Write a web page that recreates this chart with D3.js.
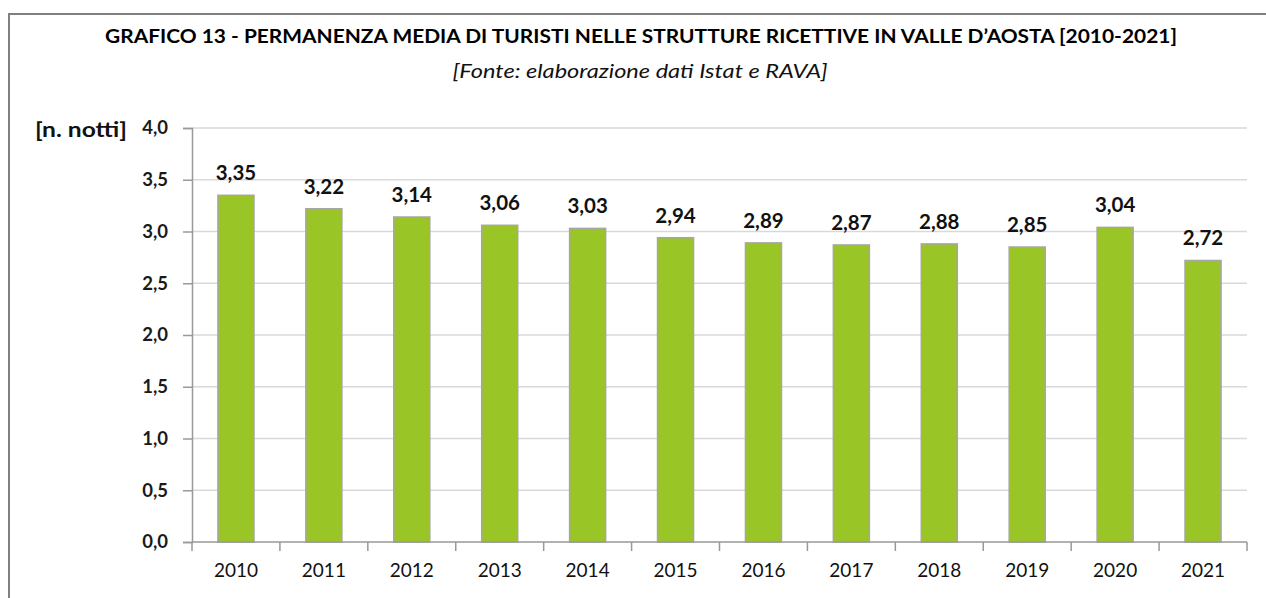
<!DOCTYPE html>
<html><head><meta charset="utf-8">
<script src="https://cdn.jsdelivr.net/npm/d3@7"></script>
<style>body{margin:0;background:#fff}svg{display:block}</style>
</head><body>
<svg id="c" width="1266" height="598"></svg>
<script>
const years = ["2010","2011","2012","2013","2014","2015","2016","2017","2018","2019","2020","2021"];
const values = [3.35,3.22,3.14,3.06,3.03,2.94,2.89,2.87,2.88,2.85,3.04,2.72];
const yTicks = [0,0.5,1,1.5,2,2.5,3,3.5,4];
const title = "GRAFICO 13 - PERMANENZA MEDIA DI TURISTI NELLE STRUTTURE RICETTIVE IN VALLE D\u2019AOSTA [2010-2021]";
const subtitle = "[Fonte: elaborazione dati Istat e RAVA]";
const yLabel = "[n. notti]";

const svg = d3.select("#c");
const font = "Lato, 'Open Sans', sans-serif";
const fmt = v => d3.format(".2f")(v).replace(".", ",");
const fmt1 = v => d3.format(".1f")(v).replace(".", ",");

// frame
svg.append("path").attr("d","M9,598 V14 H1266").attr("fill","none").attr("stroke","#808080").attr("stroke-width",2);

svg.append("text").attr("x",641).attr("y",43).attr("text-anchor","middle")
  .attr("font-family",font).attr("font-weight","bold").attr("font-size",19.5)
  .attr("textLength",1072).attr("lengthAdjust","spacingAndGlyphs")
  .attr("fill","#000").text(title);
svg.append("text").attr("x",640).attr("y",78).attr("text-anchor","middle")
  .attr("font-family",font).attr("font-style","italic").attr("font-size",19)
  .attr("textLength",375).attr("lengthAdjust","spacingAndGlyphs")
  .attr("fill","#111").text(subtitle);

const x = d3.scaleBand().domain(years).range([192,1247]).paddingInner(0.59).paddingOuter(0.295);
const y = d3.scaleLinear().domain([0,4]).range([542,128]);

// grid
svg.append("g").selectAll("line").data(yTicks.filter(d=>d>0)).join("line")
  .attr("x1",192).attr("x2",1247).attr("y1",d=>y(d)).attr("y2",d=>y(d))
  .attr("stroke","#d9d9d9").attr("stroke-width",1.5);

// bars
svg.append("g").selectAll("rect").data(values).join("rect")
  .attr("x",(d,i)=>x(years[i])).attr("width",x.bandwidth())
  .attr("y",d=>y(d)).attr("height",d=>y(0)-y(d))
  .attr("fill","#9ac526").attr("stroke","#a6a6a6").attr("stroke-width",1.5);

// y axis
const ya = svg.append("g").attr("transform","translate(192,0)")
  .call(d3.axisLeft(y).tickValues(yTicks).tickFormat(fmt1).tickSize(9).tickPadding(15));
ya.select(".domain").attr("stroke","#999").attr("stroke-width",1.5);
ya.selectAll(".tick line").attr("stroke","#999").attr("stroke-width",1.5);
ya.selectAll("text").attr("font-family",font).attr("font-weight","bold").attr("font-size",18.5).attr("fill","#1a1a1a");

// x axis
const xStep = x.step();
const xa = svg.append("g").attr("transform","translate(0,542)")
  .call(d3.axisBottom(x).tickSize(0).tickPadding(22));
xa.select(".domain").attr("stroke","#999").attr("stroke-width",1.5).attr("d","M192,0H1247");
xa.selectAll("text").attr("font-family",font).attr("font-size",19).attr("fill","#111");
const bounds = years.map((d,i)=>192+i*xStep).concat([1247]);
xa.selectAll(".sep").data(bounds).join("line").attr("class","sep")
  .attr("x1",d=>d).attr("x2",d=>d).attr("y1",0).attr("y2",9)
  .attr("stroke","#999").attr("stroke-width",1.5);

// value labels
svg.append("g").selectAll("text").data(values).join("text")
  .attr("x",(d,i)=>x(years[i])+x.bandwidth()/2).attr("y",d=>y(d)-15)
  .attr("text-anchor","middle").attr("font-family",font).attr("font-weight","bold")
  .attr("font-size",20.5).attr("fill","#111").text(fmt);

svg.append("text").attr("x",35).attr("y",137).attr("font-family",font).attr("font-weight","bold")
  .attr("font-size",20).attr("textLength",92).attr("lengthAdjust","spacingAndGlyphs")
  .attr("fill","#111").text(yLabel);
</script>
</body></html>
